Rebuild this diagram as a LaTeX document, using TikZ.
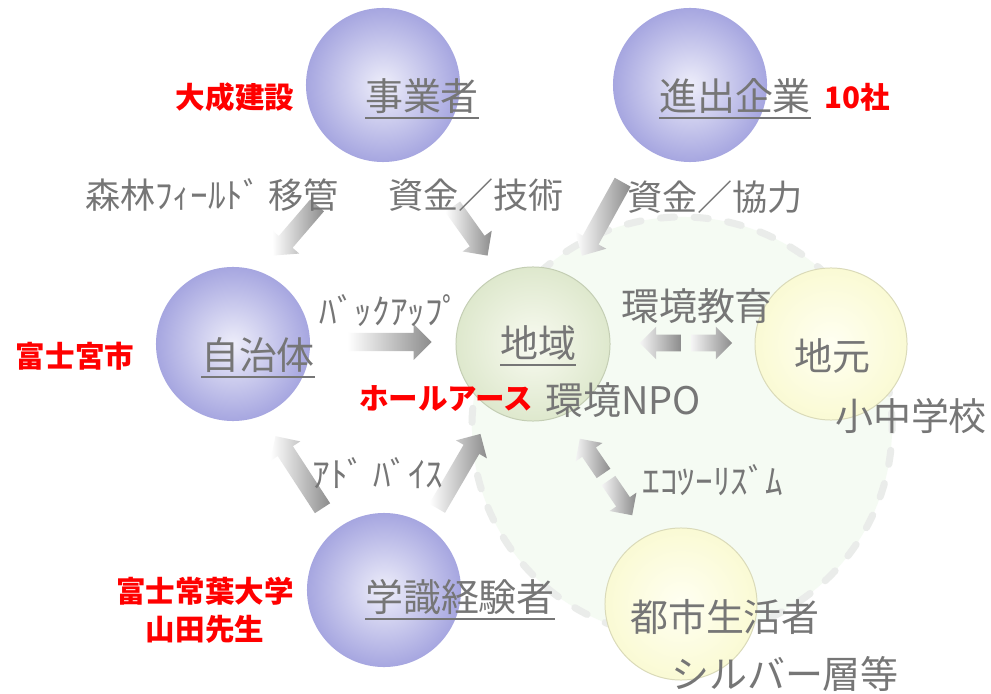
\documentclass[tikz,border=0pt]{standalone}
\usepackage{fontspec}
\newfontfamily\jp{Noto Sans CJK JP}
\usetikzlibrary{calc,shapes.arrows}
\definecolor{txtgray}{RGB}{118,118,118}
\definecolor{sphin}{RGB}{238,238,250}
\definecolor{sphout}{RGB}{166,166,224}
\definecolor{grnin}{RGB}{248,250,240}
\definecolor{grnout}{RGB}{222,232,205}
\definecolor{grnline}{RGB}{196,206,180}
\definecolor{yelin}{RGB}{255,255,242}
\definecolor{yelout}{RGB}{250,250,212}
\definecolor{yelline}{RGB}{218,218,185}
\definecolor{areafill}{RGB}{245,251,243}
\definecolor{arealine}{RGB}{234,236,234}
\definecolor{arrgray}{RGB}{140,140,140}
\tikzset{
	every node/.style={inner sep=0pt,outer sep=0pt},
	sphere/.style={circle,minimum size=3.85cm,inner color=sphin,outer color=sphout},
	greenball/.style={circle,minimum size=3.85cm,draw=grnline,line width=0.7pt,inner color=grnin,outer color=grnout},
	yellowball/.style={circle,minimum size=3.8cm,draw=yelline,line width=0.7pt,inner color=yelin,outer color=yelout},
	area/.style={circle,minimum size=10.5cm,fill=areafill,draw=arealine,line width=5pt,dash pattern=on 10pt off 14pt,line cap=round},
	lbl/.style={text=txtgray,font=\jp\fontsize{27}{32}\selectfont},
	small/.style={text=txtgray,font=\jp\fontsize{25}{29}\selectfont},
	redlbl/.style={text=red,font=\jp\bfseries\fontsize{21}{27}\selectfont,align=center},
	uline/.style={draw=txtgray,line width=1.2pt},
	garrow/.style={single arrow,minimum height=#1,inner sep=0.22cm,single arrow head extend=0.22cm,left color=white,right color=arrgray},
	halfarrow/.style={single arrow,minimum height=#1,inner sep=0.2cm,single arrow head extend=0.2cm,left color=white!92!gray,right color=arrgray}
	}
\begin{document}
\begin{tikzpicture}[x=0.025cm,y=-0.025cm]
		\useasboundingbox (0,0) rectangle (991,694);
		\fill[white] (0,0) rectangle (991,694);
		\node[area] (npoarea) at (682,427) {};
	
		\node[sphere] (jigyo) at (383,85) {};
		\node[sphere] (shinshutsu) at (690,85) {};
		\node[sphere] (jichi) at (233,344) {};
		\node[greenball] (chiiki) at (533,344) {};
		\node[yellowball] (jimoto) at (831,344) {};
		\node[sphere] (gakushiki) at (384,590) {};
		\node[yellowball] (toshi) at (681,604) {};
	
		\node[garrow=1.65cm,rotate=229.3] (aikan) at (298.5,227) {};
		\node[garrow=1.5cm,rotate=-54.5] (agijutsu) at (467.5,227.5) {};
		\node[garrow=2.1cm,rotate=241] (akyoryoku) at (604.5,215) {};
		\node[garrow=2.1cm,rotate=0] (abackup) at (385,342) {};
		\node[garrow=2.15cm,rotate=123.1] (aadv1) at (301.5,476) {};
		\node[garrow=2.15cm,rotate=59.8] (aadv2) at (456.5,475) {};
		\node[halfarrow=1.02cm,rotate=180] (akyoiku1) at (664.5,343) {};
		\node[halfarrow=1.02cm,rotate=0] (akyoiku2) at (707.5,343) {};
		\node[halfarrow=1.05cm,rotate=124.4] (aeco1) at (594,459.5) {};
		\node[halfarrow=1.05cm,rotate=-55.6] (aeco2) at (618,494.5) {};
	
		\node[lbl] (tjigyo) at (422,96) {事業者};
		\node[lbl] (tshinshutsu) at (735,96) {進出企業};
		\node[lbl] (tjichi) at (258,355) {自治体};
		\node[lbl] (tchiiki) at (538,343) {地域};
		\node[lbl] (tgakushiki) at (460,597) {学識経験者};
		\draw[uline] ([yshift=-3pt]tjigyo.south west) -- ([yshift=-3pt]tjigyo.south east);
		\draw[uline] ([yshift=-3pt]tshinshutsu.south west) -- ([yshift=-3pt]tshinshutsu.south east);
		\draw[uline] ([yshift=-3pt]tjichi.south west) -- ([yshift=-3pt]tjichi.south east);
		\draw[uline] ([yshift=-3pt]tchiiki.south west) -- ([yshift=-3pt]tchiiki.south east);
		\draw[uline] ([yshift=-3pt]tgakushiki.south west) -- ([yshift=-3pt]tgakushiki.south east);
	
		\node[lbl] (tjimoto) at (832,356) {地元};
		\node[lbl] (tshochu) at (911,416) {小中学校};
		\node[lbl] (tnpo) at (623,400) {環境NPO};
		\node[lbl] (tkyoiku) at (697,306) {環境教育};
		\node[lbl] (ttoshi) at (725,617) {都市生活者};
		\node[lbl] (tsilver) at (785,674) {シルバー層等};
	
		\node[small] (tikan) at (212,195) {森林ﾌｨｰﾙﾄﾞ 移管};
		\node[small] (tgijutsu) at (476,195) {資金／技術};
		\node[small] (tkyoryoku) at (715,197) {資金／協力};
		\node[small] (tbackup) at (390,311) {ﾊﾞｯｸｱｯﾌﾟ};
		\node[small] (tadv) at (378,473) {ｱﾄﾞ ﾊﾞｲｽ};
		\node[small] (teco) at (713,480) {ｴｺﾂｰﾘｽﾞﾑ};
	
		\node[redlbl] (rtaisei) at (235,97) {大成建設};
		\node[redlbl] (rsha) at (857,97) {10社};
		\node[redlbl] (rfuji) at (75,356) {富士宮市};
		\node[redlbl] (rwhole) at (446,399) {ホールアース};
		\node[redlbl] (rtokoha) at (205,610) {富士常葉大学\\山田先生};
	\end{tikzpicture}
\end{document}
